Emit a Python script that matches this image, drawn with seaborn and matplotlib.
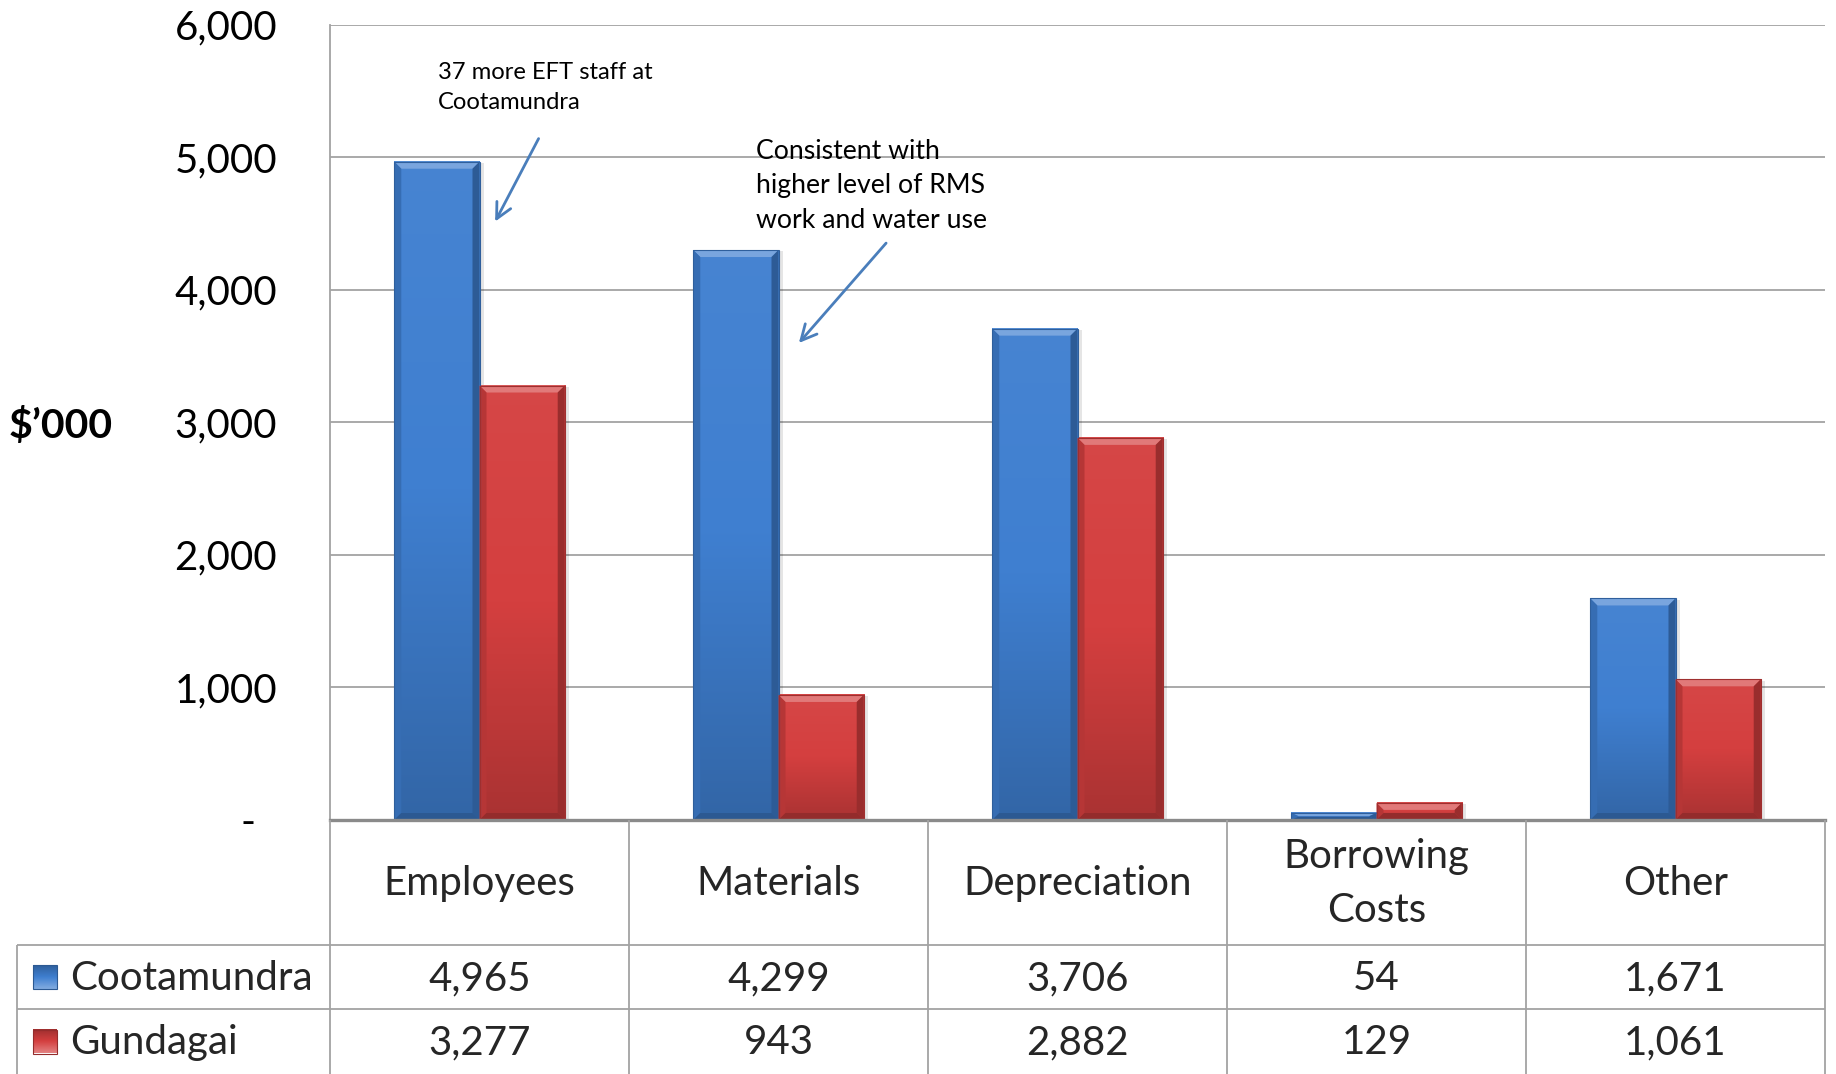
import numpy as np
import pandas as pd
import matplotlib
matplotlib.use("Agg")
import matplotlib.pyplot as plt
from matplotlib.colors import LinearSegmentedColormap, to_rgb
from matplotlib.patches import Polygon, Rectangle
from matplotlib.transforms import ScaledTranslation
import seaborn as sns

# ---- data ($'000) ----
categories = ["Employees", "Materials", "Depreciation", "Borrowing\nCosts", "Other"]
councils = ["Cootamundra", "Gundagai"]
cootamundra = [4965, 4299, 3706, 54, 1671]
gundagai = [3277, 943, 2882, 129, 1061]
ytick_values = [0, 1000, 2000, 3000, 4000, 5000, 6000]
ytick_labels = ["-", "1,000", "2,000", "3,000", "4,000", "5,000", "6,000"]

df = pd.DataFrame({
    "category": categories * 2,
    "council": [councils[0]] * 5 + [councils[1]] * 5,
    "value": cootamundra + gundagai,
})

palette = {"Cootamundra": "#3f7fd0", "Gundagai": "#d43f3f"}
FONT = "Lato"
GRID = "#a3a3a3"

sns.set_theme(style="white")
plt.rcParams["font.family"] = [FONT, "DejaVu Sans"]

W, H = 1836, 1074
DPI = 100
fig = plt.figure(figsize=(W / DPI, H / DPI), dpi=DPI)
fig.patch.set_facecolor("white")

# plot area in pixels
PL, PR, PT, PB = 330, 1825, 24.5, 820
ax = fig.add_axes([PL / W, 1 - PB / H, (PR - PL) / W, (PB - PT) / H])

sns.barplot(data=df, x="category", y="value", hue="council", order=categories,
            hue_order=councils, palette=palette, width=0.57, gap=0,
            saturation=1, legend=False, ax=ax, zorder=3)

ax.set_xlim(-0.5, len(categories) - 0.5)
ax.set_ylim(0, 6000)
ax.set_yticks(ytick_values)
ax.set_yticklabels(ytick_labels, fontsize=29, color="black")
ax.tick_params(axis="y", length=0, pad=38)
ax.set_xticks([])
ax.set_xlabel("")
ax.yaxis.grid(True, color=GRID, lw=1.3, zorder=0)
ax.set_axisbelow(True)
for side in ["top", "right"]:
    ax.spines[side].set_visible(False)
ax.spines["left"].set_color(GRID)
ax.spines["left"].set_linewidth(1.3)
ax.spines["bottom"].set_color("#8a8a8a")
ax.spines["bottom"].set_linewidth(2.4)
ax.spines["bottom"].set_zorder(6)

# zero label sits a little left, accounting-style
for lab in ax.get_yticklabels():
    if lab.get_text() == "-":
        lab.set_transform(lab.get_transform() + ScaledTranslation(-22 / DPI, 0, fig.dpi_scale_trans))

ax.set_ylabel("$\u2019000", fontsize=29.5, fontweight="bold", rotation=0, color="black")
ax.yaxis.set_label_coords((61 - PL) / (PR - PL), 0.495)
ax.yaxis.label.set_ha("center")
ax.yaxis.label.set_va("center")


def shade(c, f):
    r = np.array(to_rgb(c))
    return tuple(np.clip(r * f, 0, 1)) if f < 1 else tuple(np.clip(r + (1 - r) * (f - 1), 0, 1))


# bevelled, gradient-shaded bars
fig.canvas.draw()
px_x = ax.transData.transform((1, 0))[0] - ax.transData.transform((0, 0))[0]
px_y = ax.transData.transform((0, 1000))[1] - ax.transData.transform((0, 0))[1]
bev = 7.0
bx = bev / px_x
by_full = bev / px_y * 1000

for p in list(ax.patches):
    x0, y0 = p.get_x(), p.get_y()
    w, h = p.get_width(), p.get_height()
    if h <= 0:
        continue
    x1, y1 = x0 + w, y0 + h
    base = p.get_facecolor()[:3]
    p.set_visible(False)
    # soft drop shadow
    ax.add_patch(Rectangle((x0 + bx * 0.6, y0), w, h - by_full * 0.2, facecolor="black",
                           alpha=0.10, lw=0, zorder=2.5, clip_on=False))
    cmap = LinearSegmentedColormap.from_list("g", [shade(base, 0.80), base, shade(base, 1.04)])
    grad = np.linspace(0, 1, 256).reshape(-1, 1)
    ax.imshow(grad, extent=[x0, x1, y0, y1], origin="lower", aspect="auto", cmap=cmap,
              zorder=3, interpolation="bicubic")
    by = min(by_full, h / 2.2)
    bxx = min(bx, w / 2.2)
    top = [(x0, y1), (x1, y1), (x1 - bxx, y1 - by), (x0 + bxx, y1 - by)]
    right = [(x1, y1), (x1, y0), (x1 - bxx, y0 + by), (x1 - bxx, y1 - by)]
    left = [(x0, y1), (x0 + bxx, y1 - by), (x0 + bxx, y0 + by), (x0, y0)]
    bottom = [(x0, y0), (x0 + bxx, y0 + by), (x1 - bxx, y0 + by), (x1, y0)]
    ax.add_patch(Polygon(top, closed=True, facecolor=shade(base, 1.30), lw=0, zorder=4))
    ax.add_patch(Polygon(right, closed=True, facecolor=shade(base, 0.72), lw=0, zorder=4))
    ax.add_patch(Polygon(left, closed=True, facecolor=shade(base, 0.86), lw=0, zorder=4))
    ax.add_patch(Polygon(bottom, closed=True, facecolor=shade(base, 0.70), lw=0, zorder=4))
    ax.add_patch(Rectangle((x0, y0), w, h, facecolor="none", edgecolor=shade(base, 0.75),
                           lw=0.8, zorder=4.5))

ax.set_xlim(-0.5, len(categories) - 0.5)
ax.set_ylim(0, 6000)

# annotations
ARROW = "#4a7ebb"
ax.annotate("", xy=(0.048, 4495), xytext=(0.202, 5158),
            arrowprops=dict(arrowstyle="->", color=ARROW, lw=2, mutation_scale=28), zorder=7)
ax.text(-0.139, 5720, "37 more EFT staff at\nCootamundra", fontsize=17.1, ha="left", va="top",
        linespacing=1.58, color="black", zorder=7)
ax.annotate("", xy=(1.062, 3582), xytext=(1.366, 4367),
            arrowprops=dict(arrowstyle="->", color=ARROW, lw=2, mutation_scale=28), zorder=7)
ax.text(0.925, 5140, "Consistent with\nhigher level of RMS\nwork and water use", fontsize=19.2,
        ha="left", va="top", linespacing=1.48, color="black", zorder=7)

# ---- data table beneath the axis ----
TL = 17
rows = [820, 945, 1009, 1074]
tab = fig.add_axes([0, 0, 1, (H - rows[0]) / H])
tab.set_axis_off()
x_per_px = (len(categories)) / (PR - PL)
tab.set_xlim(-0.5 - PL * x_per_px, len(categories) - 0.5 + (W - PR) * x_per_px)
tab.set_ylim(H, rows[0])


def px2x(px):
    return -0.5 + (px - PL) * x_per_px


lkw = dict(color=GRID, lw=1.3, solid_capstyle="butt")
# vertical borders between category columns
for i in range(len(categories) + 1):
    tab.plot([i - 0.5, i - 0.5], [rows[0], rows[-1]], **lkw)
# horizontal borders
for r in rows[1:3]:
    tab.plot([px2x(TL), len(categories) - 0.5], [r, r], **lkw)
tab.plot([px2x(TL), px2x(TL)], [rows[1], rows[-1]], **lkw)

TFS = 29
for i, cat in enumerate(categories):
    tab.text(i, (rows[0] + rows[1]) / 2 + 1, cat, ha="center", va="center", fontsize=TFS,
             linespacing=1.55)
    tab.text(i, (rows[1] + rows[2]) / 2 + 2, f"{cootamundra[i]:,}", ha="center", va="center", fontsize=TFS)
    tab.text(i, (rows[2] + rows[3]) / 2 + 1, f"{gundagai[i]:,}", ha="center", va="center", fontsize=TFS)

for k, name in enumerate(councils):
    yc = (rows[k + 1] + rows[k + 2]) / 2
    base = to_rgb(palette[name])
    s = 24
    sx0, sx1 = px2x(33), px2x(33 + s)
    cmap = LinearSegmentedColormap.from_list("g", [shade(base, 0.75), base, shade(base, 1.35)])
    tab.imshow(np.linspace(0, 1, 64).reshape(-1, 1), extent=[sx0, sx1, yc + s / 2, yc - s / 2],
               origin="upper", aspect="auto", cmap=cmap, zorder=3)
    tab.add_patch(Rectangle((sx0, yc - s / 2), sx1 - sx0, s, facecolor="none",
                            edgecolor=shade(base, 0.7), lw=0.8, zorder=4))
    tab.text(px2x(70), yc + 1, name, ha="left", va="center", fontsize=TFS)

tab.set_xlim(-0.5 - PL * x_per_px, len(categories) - 0.5 + (W - PR) * x_per_px)
tab.set_ylim(H, rows[0])

fig.savefig("out.png", dpi=DPI, facecolor="white")
